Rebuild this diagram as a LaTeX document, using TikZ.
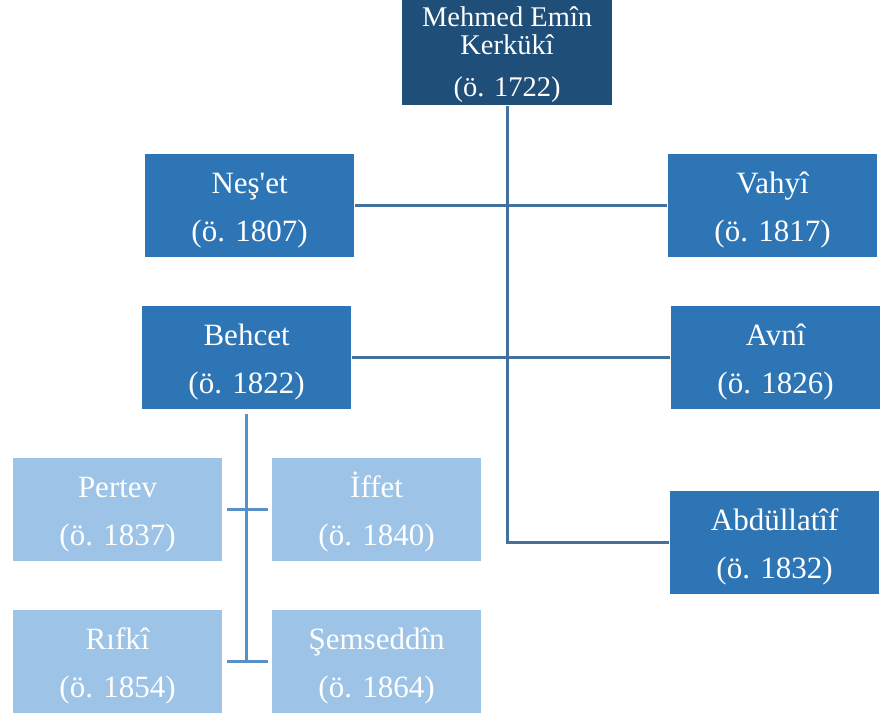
\documentclass[tikz,border=0pt]{standalone}
\usepackage{fontspec}
\setmainfont{Liberation Serif}
\newfontfamily\rawserif{Liberation Serif}
\definecolor{topc}{HTML}{1F4E79}
\definecolor{midc}{HTML}{2E75B6}
\definecolor{lightc}{HTML}{9DC3E6}
\definecolor{mainline}{HTML}{41719C}
\definecolor{subline}{HTML}{5590CB}
\tikzset{
  pbox/.style={draw=white, line width=1.2pt, minimum width=210pt, minimum height=104pt, inner sep=0pt, anchor=north west},
  midbox/.style={pbox, fill=midc},
  lightbox/.style={pbox, fill=lightc},
  topbox/.style={pbox, fill=topc, minimum width=211pt, minimum height=106pt},
  txt/.style={text=white, inner sep=0pt, font=\rawserif\fontsize{31}{31}\selectfont},
  toptxt/.style={text=white, inner sep=0pt, font=\rawserif\fontsize{28.5}{28}\selectfont},
  mainconn/.style={draw=mainline, line width=3pt},
  subconn/.style={draw=subline, line width=3pt},
}
\newcommand\personbox[6]{%
  \node[#4] (#1) at (#2,#3) {};
  \node[txt, anchor=base] (#1-a) at ([yshift=-40pt]#1.north) {#5};
  \node[txt, anchor=base] (#1-b) at ([yshift=-88pt]#1.north) {#6};}
\begin{document}
\begin{tikzpicture}[x=1pt,y=-1pt]
\useasboundingbox[fill=white] (0,0) rectangle (882,717);
% top
\node[topbox] (kerkuki) at (401,-1) {};
\node[toptxt, anchor=base] (kerkuki-a) at ([yshift=-28pt]kerkuki.north) {Mehmed Emîn};
\node[toptxt, anchor=base] (kerkuki-b) at ([yshift=-56pt]kerkuki.north) {Kerkükî};
\node[toptxt, anchor=base] (kerkuki-c) at ([yshift=-97pt]kerkuki.north) {(ö. 1722)};
% second level
\personbox{neset}{144}{153}{midbox}{Neş'et}{(ö. 1807)}
\personbox{vahyi}{667}{153}{midbox}{Vahyî}{(ö. 1817)}
\personbox{behcet}{141}{305}{midbox}{Behcet}{(ö. 1822)}
\personbox{avni}{670}{305}{midbox}{Avnî}{(ö. 1826)}
\personbox{abdullatif}{669}{490}{midbox}{Abdüllatîf}{(ö. 1832)}
% third level
\personbox{pertev}{12}{457}{lightbox}{Pertev}{(ö. 1837)}
\personbox{iffet}{271}{457}{lightbox}{İffet}{(ö. 1840)}
\personbox{rifki}{12}{609}{lightbox}{Rıfkî}{(ö. 1854)}
\personbox{semseddin}{271}{609}{lightbox}{Şemseddîn}{(ö. 1864)}
% connectors
\draw[mainconn] (kerkuki.south) -- (kerkuki.south |- abdullatif.west) -- (abdullatif.west);
\draw[mainconn] (neset.east) -- (vahyi.west);
\draw[mainconn] (behcet.east) -- (avni.west);
\draw[subconn, shorten <=4pt, shorten >=-1.5pt] (behcet.south) -- (behcet.south |- rifki.east);
\draw[subconn, shorten <=4pt, shorten >=3pt] (pertev.east) -- (iffet.west);
\draw[subconn, shorten <=4pt, shorten >=3pt] (rifki.east) -- (semseddin.west);
\end{tikzpicture}
\end{document}
